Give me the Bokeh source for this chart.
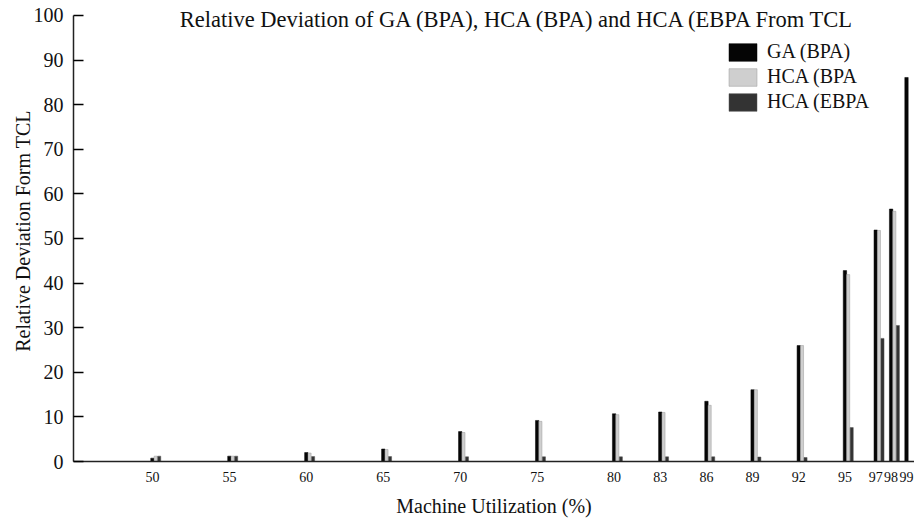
import math
from bokeh.plotting import figure
from bokeh.models import Range1d, FixedTicker, Label, Legend, LegendItem, ColumnDataSource
from bokeh.embed import file_html
from bokeh.resources import INLINE

nan = float("nan")

utilization = [50, 55, 60, 65, 70, 75, 80, 83, 86, 89, 92, 95, 97, 98, 99]
ga_bpa = [0.75, 1.2, 2.0, 2.8, 6.7, 9.2, 10.7, 11.1, 13.5, 16.1, 26.0, 42.8, 51.9, 56.6, 86.1]
hca_bpa = [1.2, 1.2, 1.9, 2.7, 6.5, 9.0, 10.5, 11.0, 12.6, 16.1, 26.0, 41.9, 51.8, 56.1, nan]
hca_ebpa = [1.2, 1.2, 1.1, 1.1, 1.05, 1.05, 1.05, 1.05, 1.05, 1.0, 0.9, 7.6, 27.6, 30.5, nan]

series_names = ["GA (BPA)", "HCA (BPA", "HCA (EBPA"]
title_text = "Relative Deviation of GA (BPA), HCA (BPA) and HCA (EBPA From TCL"

FONT = "Liberation Serif"

p = figure(width=914, height=522, output_backend="svg", toolbar_location=None,
           x_range=Range1d(44.87, 99.52), y_range=Range1d(0, 103.36),
           min_border_left=73, min_border_right=0, min_border_top=0, min_border_bottom=61)
p.outline_line_color = None
p.xgrid.visible = False
p.ygrid.visible = False
p.background_fill_color = "white"

src = ColumnDataSource(dict(
    x0=[u + 0.0 for u in utilization],
    x1=[u + 0.21 for u in utilization],
    x2=[u + 0.44 for u in utilization],
    ga=ga_bpa, hb=hca_bpa, he=hca_ebpa,
))

r1 = p.vbar(x="x0", top="ga", width=0.22, bottom=0, source=src,
            fill_color="#050505", line_color="#050505", line_width=0.5)
r2 = p.vbar(x="x1", top="hb", width=0.2, bottom=0, source=src,
            fill_color="#cfcfcf", line_color="#9a9a9a", line_width=0.5)
r3 = p.vbar(x="x2", top="he", width=0.2, bottom=0, source=src,
            fill_color="#333333", line_color="#555555", line_width=0.5)

# axes
p.xaxis.ticker = FixedTicker(ticks=utilization)
p.xaxis.major_tick_in = 0
p.xaxis.major_tick_out = 0
p.xaxis.minor_tick_line_color = None
p.xaxis.axis_line_color = "#222222"
p.xaxis.axis_line_width = 1.5
p.xaxis.major_label_text_font = FONT
p.xaxis.major_label_text_font_size = "14px"
p.xaxis.major_label_text_color = "#111111"
p.xaxis.major_label_standoff = 10
p.xaxis.axis_label = "Machine Utilization (%)"
p.xaxis.axis_label_text_font = FONT
p.xaxis.axis_label_text_font_style = "normal"
p.xaxis.axis_label_text_font_size = "20px"
p.xaxis.axis_label_text_color = "#111111"
p.xaxis.axis_label_standoff = 10

p.yaxis.ticker = FixedTicker(ticks=[0, 10, 20, 30, 40, 50, 60, 70, 80, 90, 100])
p.yaxis.bounds = (0, 100)
p.yaxis.major_tick_in = 10
p.yaxis.major_tick_out = 0
p.yaxis.major_tick_line_width = 1.5
p.yaxis.minor_tick_line_color = None
p.yaxis.axis_line_color = "#222222"
p.yaxis.axis_line_width = 1.5
p.yaxis.major_label_text_font = FONT
p.yaxis.major_label_text_font_size = "20px"
p.yaxis.major_label_text_color = "#111111"
p.yaxis.major_label_standoff = 10
p.yaxis.axis_label = "Relative Deviation Form TCL"
p.yaxis.axis_label_text_font = FONT
p.yaxis.axis_label_text_font_style = "normal"
p.yaxis.axis_label_text_font_size = "20px"
p.yaxis.axis_label_text_color = "#111111"
p.yaxis.axis_label_standoff = -3

# title inside plot area
p.add_layout(Label(x=445, y=442, x_units="screen", y_units="screen", text=title_text,
                   text_font=FONT, text_font_size="22.5px", text_color="#111111",
                   text_align="center", text_baseline="middle"))

legend = Legend(items=[LegendItem(label=series_names[0], renderers=[r1]),
                       LegendItem(label=series_names[1], renderers=[r2]),
                       LegendItem(label=series_names[2], renderers=[r3])],
                location=(652, 348), orientation="vertical",
                glyph_width=35, glyph_height=22, spacing=2, padding=0, margin=0,
                label_standoff=7, label_text_font=FONT, label_text_font_size="20px",
                label_text_color="#111111", border_line_color=None,
                background_fill_alpha=0)
p.add_layout(legend, "center")

open("out.html", "w").write(file_html(p, INLINE))
